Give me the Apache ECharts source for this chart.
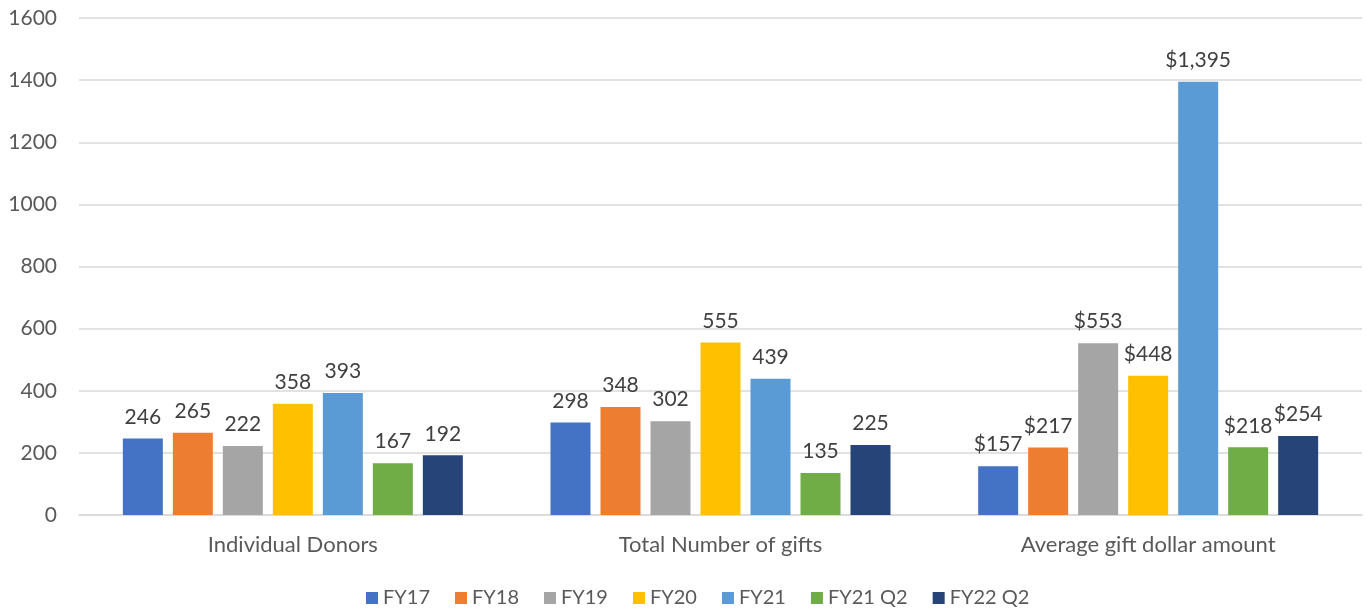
<!DOCTYPE html>
<html><head><meta charset="utf-8">
<script src="https://cdn.jsdelivr.net/npm/echarts@6/dist/echarts.min.js"></script>
<style>html,body{margin:0;padding:0;background:#fff}#c{width:1367px;height:614px}</style>
</head><body><div id="c"></div>
<script>
const categories = ['Individual Donors', 'Total Number of gifts', 'Average gift dollar amount'];
const seriesNames = ['FY17', 'FY18', 'FY19', 'FY20', 'FY21', 'FY21 Q2', 'FY22 Q2'];
const FY17 = [246, 298, 157];
const FY18 = [265, 348, 217];
const FY19 = [222, 302, 553];
const FY20 = [358, 555, 448];
const FY21 = [393, 439, 1395];
const FY21Q2 = [167, 135, 218];
const FY22Q2 = [192, 225, 254];
const seriesValues = [FY17, FY18, FY19, FY20, FY21, FY21Q2, FY22Q2];
const colors = ['#4472C4', '#ED7D31', '#A5A5A5', '#FFC000', '#5B9BD5', '#70AD47', '#264478'];
const yTicks = { min: 0, max: 1600, interval: 200 };

const font = 'Lato, "Open Sans", sans-serif';
const chart = echarts.init(document.getElementById('c'));
chart.setOption({
  animation: false,
  color: colors,
  textStyle: { fontFamily: font },
  grid: { left: 79, right: 5, top: 18, bottom: 99 },
  legend: {
    bottom: 1, left: 361, itemWidth: 12, itemHeight: 12, itemGap: 25,
    icon: 'rect',
    textStyle: { fontSize: 20, color: '#595959', fontFamily: font }
  },
  xAxis: {
    type: 'category', data: categories,
    axisTick: { show: false },
    axisLine: { lineStyle: { color: '#D9D9D9', width: 1.5 } },
    axisLabel: { fontSize: 22, color: '#595959', margin: 19 }
  },
  yAxis: {
    type: 'value', min: yTicks.min, max: yTicks.max, interval: yTicks.interval,
    axisLabel: { fontSize: 21, color: '#595959', margin: 22, formatter: v => String(v) },
    splitLine: { lineStyle: { color: '#D9D9D9', width: 1.5 } },
    axisLine: { show: false }, axisTick: { show: false }
  },
  series: seriesNames.map((name, i) => ({
    name, type: 'bar', data: seriesValues[i],
    barWidth: 40, barGap: '25%',
    label: {
      show: true, position: 'top', distance: 11,
      fontSize: 21, color: '#404040',
      formatter: p => p.dataIndex === 2 ? '$' + p.value.toLocaleString('en-US') : String(p.value)
    }
  }))
});
</script></body></html>
